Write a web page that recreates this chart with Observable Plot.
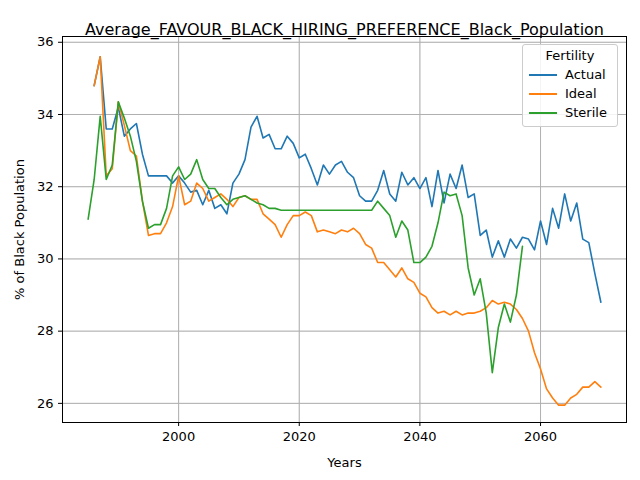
<!DOCTYPE html>
<html>
<head>
<meta charset="utf-8">
<script src="https://cdn.jsdelivr.net/npm/d3@7"></script>
<script src="https://cdn.jsdelivr.net/npm/@observablehq/plot@0.6"></script>
<style>
  body { margin: 0; font-family: "DejaVu Sans", sans-serif; background: #fff; }
  #wrap { position: relative; width: 640px; height: 480px; }
  #legend { position: absolute; left: 522px; top: 44px; width: 94px; border: 1px solid #ccc; border-radius: 3px;
    background: rgba(255,255,255,0.85); font-size: 13px; padding: 3px 0 4px 0; }
  #legend .t { text-align: center; margin-bottom: 2px; }
  #legend .r { display: flex; align-items: center; height: 19px; padding-left: 6px; }
  #legend .r span { display: inline-block; width: 28px; height: 2px; margin-right: 8px; }
</style>
</head>
<body>
<div id="wrap"><div id="chart"></div><div id="legend"></div></div>
<script>
const actualYears = d3.range(1986, 2071);
const actual = [34.8, 35.6, 33.6, 33.6, 34.2, 33.4, 33.6, 33.75, 32.9, 32.3, 32.3, 32.3, 32.3, 32.1,
  32.3, 32.1, 31.85, 31.9, 31.5, 31.9, 31.4, 31.5, 31.25, 32.1, 32.35, 32.75, 33.65, 33.95, 33.35, 33.45,
  33.05, 33.05, 33.4, 33.2, 32.8, 32.9, 32.5, 32.05, 32.6, 32.35, 32.6, 32.7, 32.4, 32.25, 31.75, 31.6,
  31.6, 31.9, 32.45, 31.8, 31.6, 32.4, 32.05, 32.25, 31.95, 32.25, 31.45, 32.45, 31.55, 32.35, 31.95,
  32.6, 31.7, 31.8, 30.65, 30.8, 30.05, 30.5, 30.05, 30.55, 30.3, 30.6, 30.55, 30.25, 31.05, 30.4, 31.4,
  30.85, 31.8, 31.05, 31.55, 30.55, 30.45, 29.6, 28.8];
const idealYears = d3.range(1986, 2071);
const ideal = [34.8, 35.6, 32.3, 32.5, 34.35, 33.7, 33.0, 32.85, 31.6, 30.65, 30.7, 30.7, 31.0, 31.45,
  32.3, 31.5, 31.6, 32.1, 31.95, 31.6, 31.7, 31.8, 31.65, 31.45, 31.7, 31.75, 31.65, 31.65, 31.25, 31.1,
  30.95, 30.6, 30.95, 31.2, 31.2, 31.3, 31.2, 30.75, 30.8, 30.75, 30.7, 30.8, 30.75, 30.85, 30.7, 30.4,
  30.3, 29.9, 29.9, 29.7, 29.5, 29.75, 29.45, 29.35, 29.05, 28.95, 28.65, 28.5, 28.55, 28.45, 28.55,
  28.45, 28.5, 28.5, 28.55, 28.65, 28.85, 28.75, 28.8, 28.75, 28.6, 28.35, 28.0, 27.4, 26.95, 26.4, 26.15,
  25.95, 25.95, 26.15, 26.25, 26.45, 26.45, 26.6, 26.45];
const sterileYears = d3.range(1985, 2058);
const sterile = [31.1, 32.2, 33.95, 32.2, 32.6, 34.35, 33.9, 33.4, 32.7, 31.6, 30.85, 30.95, 30.95, 31.4,
  32.3, 32.55, 32.2, 32.35, 32.75, 32.2, 31.95, 31.95, 31.7, 31.5, 31.65, 31.7, 31.75, 31.65, 31.55, 31.5,
  31.4, 31.4, 31.35, 31.35, 31.35, 31.35, 31.35, 31.35, 31.35, 31.35, 31.35, 31.35, 31.35, 31.35, 31.35,
  31.35, 31.35, 31.35, 31.6, 31.4, 31.2, 30.6, 31.05, 30.8, 29.9, 29.9, 30.05, 30.35, 31.0, 31.85, 31.75,
  31.8, 31.2, 29.75, 29.0, 29.45, 28.5, 26.85, 28.1, 28.75, 28.25, 29.0, 30.35];

const series = [
  {name: "Actual", color: "#1f77b4", years: actualYears, vals: actual},
  {name: "Ideal", color: "#ff7f0e", years: idealYears, vals: ideal},
  {name: "Sterile", color: "#2ca02c", years: sterileYears, vals: sterile}
];
const rows = series.flatMap(s => s.years.map((y, i) => ({year: y, v: s.vals[i], name: s.name})));

const chart = Plot.plot({
  width: 640, height: 480,
  marginLeft: 62, marginRight: 14, marginTop: 36, marginBottom: 58,
  style: {fontFamily: "DejaVu Sans", fontSize: "13px", color: "#000"},
  x: {domain: [1980.75, 2074.25], ticks: [2000, 2020, 2040, 2060], tickFormat: d => String(d),
      label: "Years", labelAnchor: "center", labelArrow: "none", labelOffset: 44, tickSize: 4, grid: true},
  y: {domain: [25.47, 36.16], ticks: [26, 28, 30, 32, 34, 36], label: "% of Black Population",
      labelAnchor: "center", labelArrow: "none", labelOffset: 48, tickSize: 4, grid: true},
  color: {domain: series.map(s => s.name), range: series.map(s => s.color)},
  marks: [
    Plot.gridX([2000, 2020, 2040, 2060], {stroke: "#b0b0b0", strokeOpacity: 1}),
    Plot.gridY([26, 28, 30, 32, 34, 36], {stroke: "#b0b0b0", strokeOpacity: 1}),
    Plot.frame({stroke: "#000"}),
    Plot.line(rows, {x: "year", y: "v", z: "name", stroke: "name", strokeWidth: 1.6}),
    Plot.text(["Average_FAVOUR_BLACK_HIRING_PREFERENCE_Black_Population"], {
      frameAnchor: "top", dy: -13, fontSize: 16, fill: "#000"})
  ]
});
d3.select("#chart").append(() => chart);
d3.select(chart).selectAll("[aria-label$='axis'] text, [aria-label$='label'] text").attr("font-size", 13);

const lg = d3.select("#legend");
lg.append("div").attr("class", "t").text("Fertility");
series.forEach(s => {
  const r = lg.append("div").attr("class", "r");
  r.append("span").style("background", s.color);
  r.append("text").text(s.name);
});
</script>
</body>
</html>
